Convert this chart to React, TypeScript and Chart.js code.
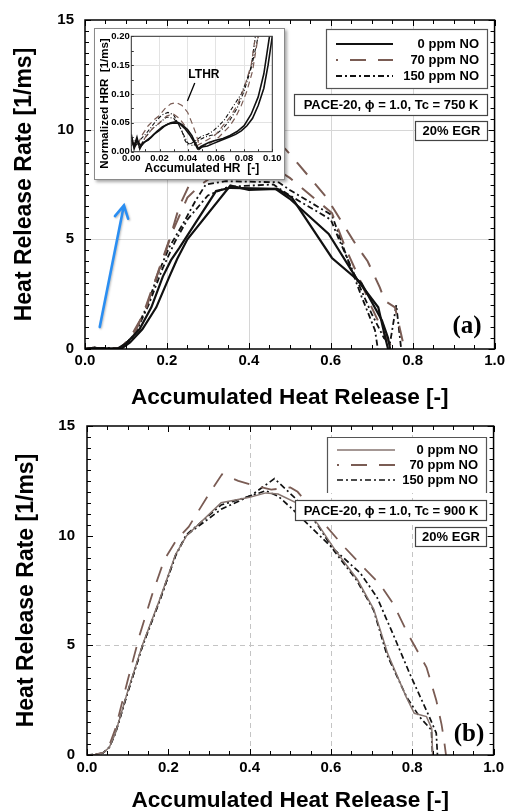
import React, { useEffect, useRef } from "react";
import { Chart, registerables } from "chart.js";

Chart.register(...registerables);

type Pt = [number, number];

// ---------------- DATA ----------------
const seriesNames = ["0 ppm NO", "70 ppm NO", "150 ppm NO"];

// Panel (a): Tc = 750 K
const a0ppmRun1: Pt[] = [[0,0],[0.02,0.05],[0.04,0.03],[0.08,0.02],[0.1,0.25],[0.133,0.9],[0.162,1.9],[0.19,3.3],[0.21,4.05],[0.23,4.6],[0.32,7.2],[0.355,7.35],[0.465,7.3],[0.5,6.85],[0.595,5.25],[0.667,3.1],[0.716,1.9],[0.732,0.6],[0.74,0]];
const a0ppmRun2: Pt[] = [[0,0],[0.02,0.04],[0.04,0.02],[0.09,0.03],[0.11,0.3],[0.14,0.9],[0.174,1.9],[0.206,3.3],[0.225,4.1],[0.25,5.0],[0.355,7.45],[0.4,7.25],[0.47,7.3],[0.505,6.9],[0.603,4.15],[0.675,3.0],[0.725,1.3],[0.74,0.5],[0.745,0]];
const a70ppmRun1: Pt[] = [[0,0],[0.02,0.06],[0.04,0.03],[0.085,0.03],[0.11,0.5],[0.14,1.5],[0.165,2.8],[0.19,4.05],[0.206,4.95],[0.23,6.5],[0.255,7.5],[0.3,8.7],[0.36,9.8],[0.42,10.3],[0.49,9.1],[0.52,8.45],[0.554,7.7],[0.59,6.9],[0.61,6.3],[0.635,5.55],[0.66,4.8],[0.69,4.0],[0.72,2.8],[0.732,2.2],[0.757,1.9],[0.78,0]];
const a70ppmRun2: Pt[] = [[0,0],[0.02,0.05],[0.04,0.02],[0.09,0.03],[0.12,0.7],[0.15,1.9],[0.18,3.6],[0.21,5.2],[0.25,6.9],[0.28,7.45],[0.35,8.4],[0.45,8.4],[0.5,7.8],[0.603,6.2],[0.635,4.65],[0.67,3.2],[0.7,1.9],[0.725,0.9],[0.745,0.2],[0.75,0]];
const a150ppmRun1: Pt[] = [[0,0],[0.02,0.07],[0.035,0.05],[0.085,0.03],[0.117,0.56],[0.15,1.9],[0.182,3.6],[0.206,4.65],[0.239,5.7],[0.271,6.8],[0.295,7.5],[0.344,7.65],[0.473,7.6],[0.5,7.25],[0.603,6.1],[0.643,4.0],[0.675,2.4],[0.708,0.86],[0.715,0]];
const a150ppmRun2: Pt[] = [[0,0],[0.02,0.06],[0.035,0.03],[0.09,0.03],[0.12,0.6],[0.155,2.0],[0.19,3.7],[0.22,4.9],[0.25,5.9],[0.3,7.0],[0.35,7.4],[0.46,7.5],[0.5,7.0],[0.6,5.9],[0.62,5.0],[0.66,3.3],[0.7,1.6],[0.73,0.5],[0.745,0.3],[0.76,2.0],[0.772,0]];

// Panel (b): Tc = 900 K
const b0ppmRun1: Pt[] = [[0,0],[0.02,0.02],[0.04,0.1],[0.055,0.35],[0.07,1.0],[0.1,2.9],[0.137,5.05],[0.178,7.05],[0.218,9.15],[0.245,10.0],[0.33,11.5],[0.4,11.75],[0.44,11.95],[0.47,11.9],[0.52,11.45],[0.567,10.55],[0.61,9.35],[0.665,8.0],[0.705,6.65],[0.74,4.6],[0.785,2.65],[0.805,1.9],[0.835,1.75],[0.848,1.2],[0.85,0]];
const b70ppmRun1: Pt[] = [[0,0],[0.02,0.02],[0.04,0.12],[0.055,0.45],[0.07,1.2],[0.1,3.4],[0.13,5.5],[0.16,7.3],[0.19,8.9],[0.22,9.8],[0.25,10.4],[0.27,11.0],[0.3,11.9],[0.332,12.8],[0.372,12.5],[0.409,12.3],[0.453,12.1],[0.5,12.2],[0.518,12.0],[0.59,10.4],[0.632,9.5],[0.68,8.55],[0.72,7.8],[0.753,6.9],[0.79,5.5],[0.835,4.0],[0.859,2.5],[0.872,1.4],[0.878,0.7],[0.883,0]];
const b150ppmRun1: Pt[] = [[0,0],[0.02,0.02],[0.04,0.1],[0.055,0.35],[0.07,1.0],[0.1,2.85],[0.137,5.0],[0.178,7.0],[0.218,9.1],[0.243,10.0],[0.33,11.2],[0.405,11.85],[0.461,12.6],[0.49,12.1],[0.518,11.6],[0.567,10.5],[0.608,9.3],[0.664,7.95],[0.705,6.6],[0.737,4.6],[0.786,2.65],[0.818,1.74],[0.847,1.14],[0.85,0]];
const b150ppmRun2: Pt[] = [[0,0],[0.02,0.02],[0.04,0.1],[0.055,0.35],[0.07,1.0],[0.1,2.85],[0.137,5.0],[0.178,7.0],[0.218,9.1],[0.245,10.05],[0.33,11.4],[0.4,11.8],[0.44,12.05],[0.47,11.8],[0.5,11.3],[0.6,9.5],[0.672,8.3],[0.713,7.2],[0.753,5.5],[0.794,3.7],[0.842,1.74],[0.859,1.0],[0.862,0]];

// Inset (panel a): normalized HRR vs accumulated HR
const in0ppmRun1: Pt[] = [[0,0.02],[0.002,0.01],[0.004,0.025],[0.006,0.005],[0.008,0.015],[0.012,0.02],[0.016,0.03],[0.02,0.037],[0.024,0.045],[0.028,0.05],[0.032,0.052],[0.036,0.047],[0.04,0.038],[0.043,0.028],[0.046,0.012],[0.048,0.004],[0.05,0.008],[0.054,0.01],[0.058,0.014],[0.062,0.018],[0.066,0.022],[0.07,0.026],[0.074,0.03],[0.078,0.036],[0.082,0.045],[0.086,0.058],[0.09,0.08],[0.094,0.11],[0.097,0.15],[0.1,0.2]];
const in0ppmRun2: Pt[] = [[0,0.03],[0.002,0.005],[0.004,0.02],[0.007,0.01],[0.01,0.018],[0.014,0.025],[0.018,0.035],[0.022,0.043],[0.026,0.048],[0.03,0.05],[0.034,0.049],[0.038,0.04],[0.042,0.027],[0.045,0.015],[0.047,0.005],[0.05,0.01],[0.055,0.016],[0.06,0.02],[0.065,0.023],[0.07,0.028],[0.075,0.035],[0.08,0.045],[0.085,0.065],[0.09,0.095],[0.094,0.135],[0.098,0.2]];
const in70ppmRun1: Pt[] = [[0,0.02],[0.004,0.01],[0.008,0.03],[0.012,0.045],[0.016,0.055],[0.02,0.063],[0.024,0.075],[0.028,0.083],[0.032,0.085],[0.036,0.08],[0.04,0.068],[0.043,0.05],[0.046,0.03],[0.048,0.012],[0.05,0.008],[0.054,0.012],[0.058,0.018],[0.062,0.025],[0.066,0.035],[0.07,0.045],[0.074,0.06],[0.078,0.08],[0.082,0.105],[0.086,0.14],[0.09,0.2]];
const in70ppmRun2: Pt[] = [[0,0.015],[0.005,0.005],[0.01,0.025],[0.015,0.04],[0.02,0.05],[0.025,0.062],[0.03,0.065],[0.034,0.058],[0.038,0.045],[0.042,0.03],[0.046,0.01],[0.05,0.015],[0.055,0.022],[0.06,0.03],[0.065,0.045],[0.07,0.06],[0.075,0.08],[0.08,0.11],[0.085,0.15],[0.088,0.2]];
const in150ppmRun1: Pt[] = [[0,0.025],[0.003,0.01],[0.006,0.02],[0.01,0.03],[0.014,0.042],[0.018,0.055],[0.022,0.064],[0.026,0.068],[0.03,0.064],[0.033,0.05],[0.036,0.035],[0.038,0.02],[0.04,0.012],[0.043,0.015],[0.046,0.02],[0.05,0.027],[0.054,0.03],[0.058,0.036],[0.062,0.045],[0.066,0.055],[0.07,0.07],[0.074,0.085],[0.078,0.1],[0.082,0.125],[0.086,0.155],[0.09,0.2]];
const in150ppmRun2: Pt[] = [[0,0.01],[0.003,0.02],[0.006,0.008],[0.01,0.025],[0.015,0.04],[0.02,0.05],[0.025,0.06],[0.03,0.058],[0.034,0.045],[0.037,0.03],[0.04,0.015],[0.044,0.01],[0.048,0.02],[0.052,0.025],[0.056,0.028],[0.06,0.03],[0.065,0.04],[0.07,0.055],[0.075,0.075],[0.08,0.105],[0.085,0.145],[0.088,0.2]];

// Annotations (data units)
const arrowFrom: Pt = [0.036, 1.0];
const arrowTo: Pt = [0.095, 6.55];
const lthrText = "LTHR";
const lthrAt: Pt = [0.0515, 0.134];
const lthrPointer: Pt[] = [[0.045, 0.119], [0.0398, 0.088]];

const panelAInfo = ["PACE-20, \u03D5 = 1.0, Tc = 750 K", "20% EGR"];
const panelBInfo = ["PACE-20, \u03D5 = 1.0, Tc = 900 K", "20% EGR"];

const gridA_X = [0.2, 0.4, 0.6, 0.8];
const gridA_Y = [5, 10];
const gridB_X = [0.4, 0.6, 0.8];
const gridB_Y = [5];

const insetXTitle = "Accumulated HR  [-]";
const insetYTitle = "Normalized HRR  [1/ms]";

// ---------------- STYLE ----------------
const SANS = '"Liberation Sans", Arial, "DejaVu Sans", sans-serif';
const SERIF = '"Liberation Serif", "Times New Roman", serif';
const BROWN = "#7a5c54";
const GRAYBROWN = "#867570";
const BLACK = "#111111";
const BLUE = "#2a8ef2";
const DASH70 = [16, 12];
const DASHDOT = [6, 3, 2, 3];

type LineStyle = { color: string; width: number; dash: number[] };

const styleA: LineStyle[] = [
  { color: BLACK, width: 2.2, dash: [] },
  { color: BROWN, width: 2.0, dash: DASH70 },
  { color: BLACK, width: 1.8, dash: DASHDOT },
];
const styleB: LineStyle[] = [
  { color: GRAYBROWN, width: 1.5, dash: [] },
  { color: BROWN, width: 1.8, dash: DASH70 },
  { color: BLACK, width: 1.7, dash: DASHDOT },
];
const styleInset: LineStyle[] = [
  { color: BLACK, width: 1.6, dash: [] },
  { color: BROWN, width: 1.2, dash: [6, 4] },
  { color: BLACK, width: 1.1, dash: [4, 2, 1, 2] },
];

type Box = { l: number; t: number; r: number; b: number };
type Panel = {
  id: string;
  top: number;
  height: number;
  padTop: number;
  padRight: number;
  yAxisW: number;
  xAxisH: number;
  xTickPad: number;
  yTickPad: number;
  yTitlePad: number;
  gridX: number[];
  gridY: number[];
  gridDash: number[];
  gridColor: string;
  series: { data: Pt[]; style: number }[];
  styles: LineStyle[];
  legend: Box & { rows: number[]; lineX: [number, number]; textRight: number; noBottom: boolean };
  info: string[];
  infoBoxes: Box[];
  label: { text: string; x: number; y: number };
  arrow: boolean;
};

const panelA: Panel = {
  id: "a", top: 0, height: 411, padTop: 19, padRight: 11, yAxisW: 85, xAxisH: 62,
  xTickPad: 3, yTickPad: 11, yTitlePad: 11,
  gridX: gridA_X, gridY: gridA_Y, gridDash: [], gridColor: "#d6d6d6",
  series: [
    { data: a0ppmRun1, style: 0 }, { data: a0ppmRun2, style: 0 },
    { data: a70ppmRun1, style: 1 }, { data: a70ppmRun2, style: 1 },
    { data: a150ppmRun1, style: 2 }, { data: a150ppmRun2, style: 2 },
  ],
  styles: styleA,
  legend: { l: 326, t: 29, r: 487, b: 88, rows: [44, 60, 76], lineX: [336, 393], textRight: 479, noBottom: false },
  info: panelAInfo,
  infoBoxes: [{ l: 294, t: 94, r: 487, b: 115 }, { l: 415, t: 121, r: 487, b: 140 }],
  label: { text: "(a)", x: 467, y: 327 },
  arrow: true,
};

const panelB: Panel = {
  id: "b", top: 405, height: 409, padTop: 20, padRight: 10, yAxisW: 87, xAxisH: 59,
  xTickPad: 4, yTickPad: 12, yTitlePad: 13,
  gridX: gridB_X, gridY: gridB_Y, gridDash: [5, 4], gridColor: "#c4c4c4",
  series: [
    { data: b0ppmRun1, style: 0 },
    { data: b70ppmRun1, style: 1 },
    { data: b150ppmRun1, style: 2 }, { data: b150ppmRun2, style: 2 },
  ],
  styles: styleB,
  legend: { l: 327, t: 32, r: 486, b: 88, rows: [45, 60, 75], lineX: [337, 395], textRight: 478, noBottom: true },
  info: panelBInfo,
  infoBoxes: [{ l: 295, t: 95, r: 486, b: 115 }, { l: 415, t: 122, r: 486, b: 141 }],
  label: { text: "(b)", x: 469, y: 330 },
  arrow: false,
};

function decoPlugin(p: Panel) {
  return {
    id: "deco_" + p.id,
    beforeDatasetsDraw(chart: any) {
      const { ctx, chartArea: a, scales } = chart;
      const x = scales.x, y = scales.y;
      ctx.save();
      ctx.strokeStyle = p.gridColor;
      ctx.lineWidth = 1;
      ctx.setLineDash(p.gridDash);
      p.gridX.forEach((v) => {
        const px = Math.round(x.getPixelForValue(v)) + 0.5;
        ctx.beginPath(); ctx.moveTo(px, a.top); ctx.lineTo(px, a.bottom); ctx.stroke();
      });
      p.gridY.forEach((v) => {
        const py = Math.round(y.getPixelForValue(v)) + 0.5;
        ctx.beginPath(); ctx.moveTo(a.left, py); ctx.lineTo(a.right, py); ctx.stroke();
      });
      ctx.restore();
    },
    afterDatasetsDraw(chart: any) {
      const { ctx, chartArea: a, scales } = chart;
      const x = scales.x, y = scales.y;
      ctx.save();
      // arrow
      if (p.arrow) {
        const x1 = x.getPixelForValue(arrowFrom[0]), y1 = y.getPixelForValue(arrowFrom[1]);
        const x2 = x.getPixelForValue(arrowTo[0]), y2 = y.getPixelForValue(arrowTo[1]);
        const ang = Math.atan2(y2 - y1, x2 - x1);
        ctx.strokeStyle = BLUE;
        ctx.lineWidth = 2.6;
        ctx.lineCap = "round";
        ctx.shadowColor = "rgba(0,0,0,0.25)";
        ctx.shadowBlur = 2;
        ctx.shadowOffsetX = 1;
        ctx.shadowOffsetY = 1;
        ctx.beginPath(); ctx.moveTo(x1, y1); ctx.lineTo(x2, y2);
        const hl = 14, hw = 0.5;
        ctx.moveTo(x2 - hl * Math.cos(ang - hw), y2 - hl * Math.sin(ang - hw));
        ctx.lineTo(x2, y2);
        ctx.lineTo(x2 - hl * Math.cos(ang + hw), y2 - hl * Math.sin(ang + hw));
        ctx.stroke();
        ctx.shadowColor = "transparent";
        ctx.shadowBlur = 0; ctx.shadowOffsetX = 0; ctx.shadowOffsetY = 0;
        ctx.lineCap = "butt";
      }
      // frame
      ctx.setLineDash([]);
      ctx.strokeStyle = "#000";
      ctx.lineWidth = 1.5;
      ctx.strokeRect(a.left, a.top, a.right - a.left, a.bottom - a.top);
      // inside ticks
      ctx.lineWidth = 1;
      for (let i = 0; i <= 20; i++) {
        const px = Math.round(x.getPixelForValue(i * 0.05)) + 0.5;
        const len = i % 4 === 0 ? 6 : 4;
        ctx.beginPath();
        ctx.moveTo(px, a.bottom); ctx.lineTo(px, a.bottom - len);
        ctx.moveTo(px, a.top); ctx.lineTo(px, a.top + len);
        ctx.stroke();
      }
      for (let i = 0; i <= 30; i++) {
        const py = Math.round(y.getPixelForValue(i * 0.5)) + 0.5;
        const len = i % 10 === 0 ? 6 : 4;
        ctx.beginPath();
        ctx.moveTo(a.left, py); ctx.lineTo(a.left + len, py);
        ctx.moveTo(a.right, py); ctx.lineTo(a.right - len, py);
        ctx.stroke();
      }
      // legend
      const L = p.legend;
      ctx.fillStyle = "#fff";
      ctx.fillRect(L.l, L.t, L.r - L.l, L.b - L.t);
      ctx.strokeStyle = "#555";
      ctx.lineWidth = 1.2;
      if (L.noBottom) {
        ctx.beginPath();
        ctx.moveTo(L.l + 0.5, L.b); ctx.lineTo(L.l + 0.5, L.t + 0.5);
        ctx.lineTo(L.r + 0.5, L.t + 0.5); ctx.lineTo(L.r + 0.5, L.b);
        ctx.stroke();
      } else {
        ctx.strokeRect(L.l + 0.5, L.t + 0.5, L.r - L.l, L.b - L.t);
      }
      ctx.font = `bold 13px ${SANS}`;
      ctx.textAlign = "right";
      ctx.textBaseline = "middle";
      seriesNames.forEach((name, i) => {
        const st = p.styles[i];
        const ry = L.rows[i];
        ctx.strokeStyle = st.color;
        ctx.lineWidth = st.width;
        ctx.setLineDash(st.dash);
        ctx.lineDashOffset = i === 1 ? 14 : 0;
        ctx.beginPath(); ctx.moveTo(L.lineX[0], ry); ctx.lineTo(L.lineX[1], ry); ctx.stroke();
        ctx.setLineDash([]);
        ctx.lineDashOffset = 0;
        ctx.fillStyle = "#000";
        ctx.fillText(name, L.textRight, ry + 0.5);
      });
      // info boxes
      p.infoBoxes.forEach((b, i) => {
        ctx.fillStyle = "#fff";
        ctx.fillRect(b.l, b.t, b.r - b.l, b.b - b.t);
        ctx.strokeStyle = "#444";
        ctx.lineWidth = 1.2;
        ctx.strokeRect(b.l + 0.5, b.t + 0.5, b.r - b.l, b.b - b.t);
        ctx.fillStyle = "#000";
        ctx.textAlign = "center";
        ctx.fillText(p.info[i], (b.l + b.r) / 2 + 0.5, (b.t + b.b) / 2 + 1);
      });
      // panel label
      ctx.font = `bold 25px ${SERIF}`;
      ctx.textAlign = "center";
      ctx.fillStyle = "#000";
      ctx.fillText(p.label.text, p.label.x, p.label.y);
      ctx.restore();
    },
  };
}

function mainConfig(p: Panel): any {
  const tickFont = { family: SANS, size: 15, weight: "bold" as const };
  const titleFont = { family: SANS, size: 22.6, weight: "bold" as const };
  return {
    type: "scatter",
    data: {
      datasets: p.series.map((s) => {
        const st = p.styles[s.style];
        return {
          label: seriesNames[s.style],
          data: s.data.map(([x, y]) => ({ x, y })),
          showLine: true,
          borderColor: st.color,
          backgroundColor: st.color,
          borderWidth: st.width,
          borderDash: st.dash,
          pointRadius: 0,
          pointHoverRadius: 0,
          fill: false,
          tension: 0,
        };
      }),
    },
    options: {
      animation: false,
      responsive: false,
      maintainAspectRatio: false,
      events: [],
      layout: { padding: { left: 0, top: p.padTop, right: p.padRight, bottom: 0 } },
      plugins: { legend: { display: false }, tooltip: { enabled: false }, title: { display: false } },
      scales: {
        x: {
          type: "linear",
          min: 0,
          max: 1,
          grid: { display: false, drawTicks: false },
          border: { display: false },
          ticks: {
            stepSize: 0.2,
            maxRotation: 0,
            autoSkip: false,
            padding: p.xTickPad,
            color: "#000",
            font: tickFont,
            callback: (v: any) => Number(v).toFixed(1),
          },
          title: {
            display: true,
            text: "Accumulated Heat Release [-]",
            color: "#000",
            font: titleFont,
            padding: { top: 0, bottom: 0 },
          },
          afterFit: (s: any) => { s.height = p.xAxisH; },
        },
        y: {
          type: "linear",
          min: 0,
          max: 15,
          grid: { display: false, drawTicks: false },
          border: { display: false },
          ticks: {
            stepSize: 5,
            autoSkip: false,
            padding: p.yTickPad,
            color: "#000",
            font: tickFont,
            callback: (v: any) => String(v),
          },
          title: {
            display: true,
            text: "Heat Release Rate [1/ms]",
            color: "#000",
            font: { family: SANS, size: 23, weight: "bold" as const },
            padding: { top: p.yTitlePad, bottom: 0 },
          },
          afterFit: (s: any) => { s.width = p.yAxisW; },
        },
      },
    },
    plugins: [decoPlugin(p)],
  };
}

const insetSeries: { data: Pt[]; style: number }[] = [
  { data: in0ppmRun1, style: 0 }, { data: in0ppmRun2, style: 0 },
  { data: in70ppmRun1, style: 1 }, { data: in70ppmRun2, style: 1 },
  { data: in150ppmRun1, style: 2 }, { data: in150ppmRun2, style: 2 },
];

function insetConfig(): any {
  const tickFont = { family: SANS, size: 9.5, weight: "bold" as const };
  const titleFont = { family: SANS, size: 12, weight: "bold" as const };
  return {
    type: "scatter",
    data: {
      datasets: insetSeries.map((s) => {
        const st = styleInset[s.style];
        return {
          label: seriesNames[s.style],
          data: s.data.map(([x, y]) => ({ x, y })),
          showLine: true,
          borderColor: st.color,
          borderWidth: st.width,
          borderDash: st.dash,
          pointRadius: 0,
          fill: false,
          tension: 0,
        };
      }),
    },
    options: {
      animation: false,
      responsive: false,
      maintainAspectRatio: false,
      events: [],
      layout: { padding: { left: 0, top: 5.3, right: 11.7, bottom: 0 } },
      plugins: { legend: { display: false }, tooltip: { enabled: false } },
      scales: {
        x: {
          type: "linear", min: 0, max: 0.1,
          grid: { color: "#e3e3e3", drawTicks: false },
          border: { display: false },
          ticks: { stepSize: 0.02, autoSkip: false, maxRotation: 0, padding: 0.6, color: "#000", font: tickFont, callback: (v: any) => Number(v).toFixed(2) },
          title: { display: true, text: insetXTitle, color: "#000", font: titleFont, padding: { top: 0, bottom: 2.8 } },
          afterFit: (s: any) => { s.height = 27.3; },
        },
        y: {
          type: "linear", min: 0, max: 0.2,
          grid: { color: "#e3e3e3", drawTicks: false },
          border: { display: false },
          ticks: { stepSize: 0.05, autoSkip: false, padding: 1.6, color: "#000", font: tickFont, callback: (v: any) => Number(v).toFixed(2) },
          title: { display: false },
          afterFit: (s: any) => { s.width = 36.3; },
        },
      },
    },
    plugins: [
      {
        id: "insetDeco",
        afterDatasetsDraw(chart: any) {
          const { ctx, chartArea: a, scales } = chart;
          const x = scales.x, y = scales.y;
          ctx.save();
          ctx.strokeStyle = "#333";
          ctx.lineWidth = 1;
          ctx.strokeRect(a.left, a.top, a.right - a.left, a.bottom - a.top);
          // small inside ticks
          for (let i = 0; i <= 10; i++) {
            const px = Math.round(x.getPixelForValue(i * 0.01)) + 0.5;
            ctx.beginPath(); ctx.moveTo(px, a.bottom); ctx.lineTo(px, a.bottom - 2.5); ctx.stroke();
          }
          for (let i = 0; i <= 8; i++) {
            const py = Math.round(y.getPixelForValue(i * 0.025)) + 0.5;
            ctx.beginPath(); ctx.moveTo(a.left, py); ctx.lineTo(a.left + 2.5, py); ctx.stroke();
          }
          // LTHR label and pointer
          ctx.strokeStyle = "#000";
          ctx.lineWidth = 1.3;
          ctx.beginPath();
          ctx.moveTo(x.getPixelForValue(lthrPointer[0][0]), y.getPixelForValue(lthrPointer[0][1]));
          ctx.lineTo(x.getPixelForValue(lthrPointer[1][0]), y.getPixelForValue(lthrPointer[1][1]));
          ctx.stroke();
          ctx.font = `bold 12px ${SANS}`;
          ctx.fillStyle = "#000";
          ctx.textAlign = "center";
          ctx.textBaseline = "middle";
          ctx.fillText(lthrText, x.getPixelForValue(lthrAt[0]), y.getPixelForValue(lthrAt[1]));
          // rotated y title (spans beyond the chart area, as in the original)
          ctx.save();
          ctx.translate(9.5, 74.5);
          ctx.rotate(-Math.PI / 2);
          ctx.font = `bold 11.5px ${SANS}`;
          ctx.fillText(insetYTitle, 0, 0);
          ctx.restore();
          ctx.restore();
        },
      },
    ],
  };
}

export default function App() {
  const refA = useRef<HTMLCanvasElement>(null);
  const refB = useRef<HTMLCanvasElement>(null);
  const refI = useRef<HTMLCanvasElement>(null);

  useEffect(() => {
    const charts: Chart[] = [];
    if (refA.current) charts.push(new Chart(refA.current, mainConfig(panelA)));
    if (refB.current) charts.push(new Chart(refB.current, mainConfig(panelB)));
    if (refI.current) charts.push(new Chart(refI.current, insetConfig()));
    return () => charts.forEach((c) => c.destroy());
  }, []);

  return (
    <div style={{ position: "fixed", left: 0, top: 0, width: 508, height: 811, overflow: "hidden", background: "#fff" }}>
      <canvas
        ref={refA}
        width={508}
        height={panelA.height}
        style={{ position: "absolute", left: 0, top: panelA.top, width: 508, height: panelA.height }}
      />
      <canvas
        ref={refB}
        width={508}
        height={panelB.height}
        style={{ position: "absolute", left: 0, top: panelB.top, width: 508, height: panelB.height }}
      />
      <div
        style={{
          position: "absolute",
          left: 94,
          top: 28,
          width: 191,
          height: 152,
          boxSizing: "border-box",
          border: "1px solid #8a8a8a",
          background: "#fff",
          boxShadow: "2px 2px 3px rgba(0,0,0,0.35)",
        }}
      >
        <canvas
          ref={refI}
          width={189}
          height={150}
          style={{ position: "absolute", left: 0, top: 0, width: 189, height: 150 }}
        />
      </div>
    </div>
  );
}
